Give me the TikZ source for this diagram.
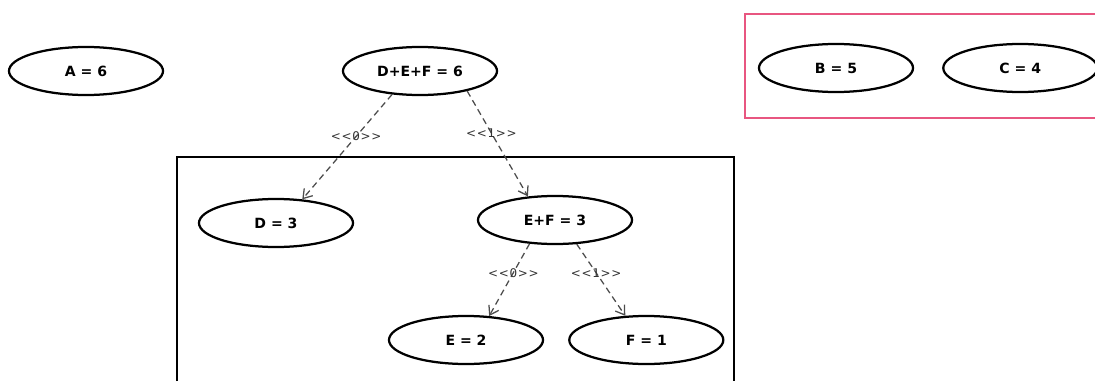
\documentclass[tikz,border=0pt]{standalone}
\usepackage{fontspec}
\setsansfont{DejaVu Sans}
\newfontfamily\tagfont{DejaVu Sans}[LetterSpace=6]
\usetikzlibrary{shapes.geometric,arrows.meta,positioning}
\definecolor{framepink}{RGB}{232,86,128}

\begin{document}
\begin{tikzpicture}[x=0.025cm,y=-0.025cm,>={Straight Barb[length=6pt,width=8pt]},node distance=.7cm,
  main node/.style={draw, ellipse, line width=1.6pt, minimum width=3.85cm, minimum height=1.2cm, inner sep=0pt, font=\sffamily\bfseries\fontsize{10}{12}\selectfont},
  dep/.style={->, gray!60!black, line width=.9pt, dash pattern=on 4.5pt off 3pt},
  tag/.style={font=\tagfont\fontsize{8.5}{10}\selectfont, text=gray!40!black}]
			\useasboundingbox (0,0) rectangle (1095,381);
			
			\node[main node] (1) at (86,71) {A = 6};
			\node[main node] (2) at (420,71) {D+E+F = 6};
			
			\node[main node] (3) at (836,68) {B = 5};
			\node[main node] (4) [right=of 3] {C = 4};
			
			\node[main node] (5) at (276,223) {D = 3};
			\node[main node] (6) at (555,220) {E+F = 3};
			\node[main node] (7) at (466,340) {E = 2};
			\node[main node] (8) [right=.6cm of 7] {F = 1};
			
			% frames
			\draw[framepink, line width=.9pt] (1095,14) -- (745,14) -- (745,118) -- (1095,118);
			\draw[line width=.9pt] (177,381) -- (177,157) -- (734,157) -- (734,381);
			
			\path
			(2.220) edge [dep] node [tag, pos=.4] {<{}<0>{}>} (5.42)
			(2.-23) edge [dep] node [tag, pos=.4] {<{}<1>{}>} (6.139)
			(6.223) edge [dep] node [tag, pos=.4] {<{}<0>{}>} (7.46)
			(6.-48) edge [dep] node [tag, pos=.4] {<{}<1>{}>} (8.131);
			
\end{tikzpicture}
\end{document}
